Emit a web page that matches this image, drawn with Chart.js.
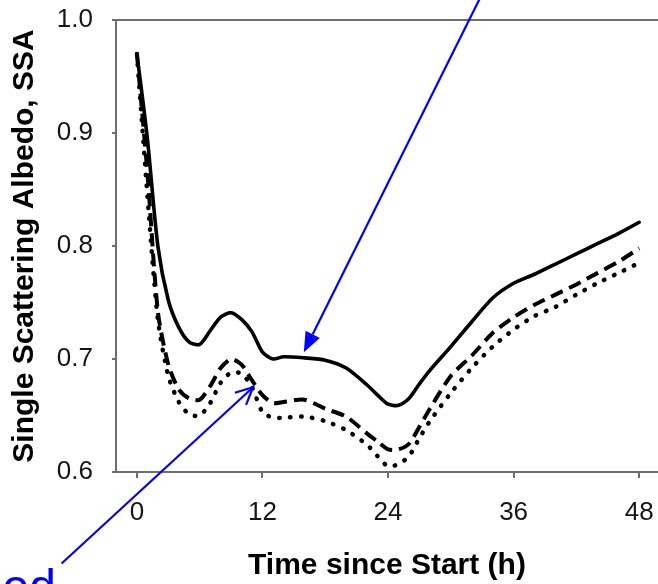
<!DOCTYPE html>
<html>
<head>
<meta charset="utf-8">
<script src="https://cdn.jsdelivr.net/npm/chart.js@4.4.1/dist/chart.umd.min.js"></script>
<style>
html, body { margin: 0; padding: 0; background: #fff; overflow: hidden; }
#wrap { width: 658px; height: 584px; position: relative; }
</style>
</head>
<body>
<div id="wrap"><canvas id="ssa-chart" width="658" height="584"></canvas></div>
<script>
// hours since start, and SSA for the three runs (solid, dashed, dotted)
var hours = [0, 1, 2, 3, 4, 5, 6, 7, 8, 9, 10, 11, 12, 13, 14, 16, 18, 20, 22, 23, 24, 25, 26, 27, 28, 30, 32, 34, 36, 38, 40, 42, 44, 46, 48];
var ssaSolid = [0.970, 0.895, 0.800, 0.752, 0.728, 0.715, 0.713, 0.725, 0.737, 0.741, 0.735, 0.724, 0.706, 0.700, 0.702, 0.701, 0.699, 0.692, 0.677, 0.668, 0.660, 0.659, 0.665, 0.678, 0.690, 0.711, 0.733, 0.754, 0.767, 0.775, 0.784, 0.793, 0.802, 0.811, 0.821];
var ssaDashed = [0.970, 0.865, 0.742, 0.695, 0.673, 0.665, 0.664, 0.676, 0.692, 0.700, 0.695, 0.681, 0.668, 0.661, 0.662, 0.664, 0.656, 0.649, 0.634, 0.627, 0.620, 0.620, 0.625, 0.640, 0.656, 0.685, 0.703, 0.723, 0.737, 0.748, 0.757, 0.766, 0.776, 0.786, 0.798];
var ssaDotted = [0.970, 0.845, 0.735, 0.685, 0.662, 0.651, 0.650, 0.661, 0.679, 0.688, 0.687, 0.675, 0.653, 0.648, 0.648, 0.649, 0.645, 0.637, 0.624, 0.614, 0.605, 0.607, 0.614, 0.630, 0.645, 0.670, 0.692, 0.711, 0.726, 0.738, 0.746, 0.757, 0.767, 0.776, 0.785];
var xTickLabels = [0, 12, 24, 36, 48];
var yTickLabels = [0.6, 0.7, 0.8, 0.9, 1.0];

// blue callout arrows in data units [hours, SSA]
var arrowTop = { from: [32.8, 1.0196], to: [15.95, 0.706] };
var arrowBottom = { from: [-7.2, 0.519], to: [11.1, 0.675] };

var axisGray = '#6e6e6e';
var fontFam = '"Liberation Sans", Arial, sans-serif';

function toPoints(vals) {
    var pts = [];
    for (var i = 0; i < hours.length; i++) {
        pts.push({ x: hours[i], y: vals[i] });
    }
    return pts;
}

// keep tick label overhang from pushing the plot area around
function noPad(axis) {
    axis.paddingTop = 0;
    axis.paddingBottom = 0;
    axis.paddingLeft = 0;
    axis.paddingRight = 0;
}

var calloutPlugin = {
    id: 'callouts',
    afterDraw: function(chart) {
        var ctx = chart.ctx;
        var xs = chart.scales.x;
        var ys = chart.scales.y;
        function px(p) {
            return [xs.getPixelForValue(p[0]), ys.getPixelForValue(p[1])];
        }
        ctx.save();
        ctx.strokeStyle = '#0000ff';
        ctx.fillStyle = '#0000ff';
        ctx.lineWidth = 2.2;

        // top arrow, filled head
        var a = px(arrowTop.from), b = px(arrowTop.to);
        var ang = Math.atan2(b[1] - a[1], b[0] - a[0]);
        var headLen = 20, headW = 8;
        var bx = b[0] - headLen * Math.cos(ang), by = b[1] - headLen * Math.sin(ang);
        ctx.beginPath();
        ctx.moveTo(a[0], a[1]);
        ctx.lineTo(bx, by);
        ctx.stroke();
        ctx.beginPath();
        ctx.moveTo(b[0], b[1]);
        ctx.lineTo(bx + headW * Math.sin(ang), by - headW * Math.cos(ang));
        ctx.lineTo(bx - headW * Math.sin(ang), by + headW * Math.cos(ang));
        ctx.closePath();
        ctx.fill();

        // bottom arrow, open head
        a = px(arrowBottom.from);
        b = px(arrowBottom.to);
        ang = Math.atan2(b[1] - a[1], b[0] - a[0]);
        ctx.beginPath();
        ctx.moveTo(a[0], a[1]);
        ctx.lineTo(b[0], b[1]);
        ctx.stroke();
        ctx.beginPath();
        ctx.moveTo(b[0] - 19 * Math.cos(ang - 0.45), b[1] - 19 * Math.sin(ang - 0.45));
        ctx.lineTo(b[0], b[1]);
        ctx.lineTo(b[0] - 19 * Math.cos(ang + 0.45), b[1] - 19 * Math.sin(ang + 0.45));
        ctx.stroke();

        // cut-off caption text at the bottom left
        ctx.font = '48px ' + fontFam;
        ctx.textAlign = 'right';
        ctx.textBaseline = 'alphabetic';
        ctx.fillText('ed', 56, 603);
        ctx.restore();
    }
};

var ctx = document.getElementById('ssa-chart');

var chart = new Chart(ctx, {
    type: 'line',
    data: {
        datasets: [
            {
                label: 'solid',
                data: toPoints(ssaSolid),
                borderColor: '#000',
                borderWidth: 3.6,
                borderJoinStyle: 'round',
                borderCapStyle: 'round',
                pointRadius: 0,
                tension: 0.25
            },
            {
                label: 'dashed',
                data: toPoints(ssaDashed),
                borderColor: '#000',
                borderWidth: 4,
                borderDash: [13, 7],
                borderCapStyle: 'butt',
                pointRadius: 0,
                tension: 0.25
            },
            {
                label: 'dotted',
                data: toPoints(ssaDotted),
                borderColor: '#000',
                borderWidth: 4.5,
                borderDash: [0.5, 10.5],
                borderCapStyle: 'round',
                pointRadius: 0,
                tension: 0.25
            }
        ]
    },
    options: {
        responsive: false,
        animation: false,
        devicePixelRatio: 1,
        layout: { padding: 0 },
        plugins: {
            legend: { display: false },
            tooltip: { enabled: false }
        },
        scales: {
            x: {
                type: 'linear',
                position: 'bottom',
                min: -2,
                max: 49.8,
                afterBuildTicks: function(axis) {
                    axis.ticks = xTickLabels.map(function(v) { return { value: v }; });
                },
                afterFit: function(axis) { axis.height = 112; noPad(axis); },
                ticks: {
                    font: { family: fontFam, size: 26 },
                    color: '#151515',
                    padding: 19,
                    maxRotation: 0
                },
                grid: {
                    drawOnChartArea: false,
                    drawTicks: true,
                    tickLength: 6,
                    color: axisGray,
                    lineWidth: 2
                },
                border: { color: axisGray, width: 2 },
                title: {
                    display: true,
                    text: 'Time since Start (h)',
                    font: { family: fontFam, size: 30, weight: 'bold' },
                    color: '#000',
                    padding: { top: 0, bottom: 0 }
                }
            },
            x2: {
                type: 'linear',
                position: 'top',
                min: -2,
                max: 49.8,
                afterFit: function(axis) { axis.height = 20; noPad(axis); },
                ticks: { display: false },
                grid: { display: false, drawTicks: false },
                border: { display: true, color: axisGray, width: 2 }
            },
            y: {
                min: 0.6,
                max: 1.0,
                afterBuildTicks: function(axis) {
                    axis.ticks = yTickLabels.map(function(v) { return { value: v }; });
                },
                afterFit: function(axis) { axis.width = 116; noPad(axis); },
                ticks: {
                    font: { family: fontFam, size: 26 },
                    color: '#151515',
                    padding: 19,
                    callback: function(v) { return Number(v).toFixed(1); }
                },
                grid: {
                    drawOnChartArea: false,
                    drawTicks: true,
                    tickLength: 4,
                    color: axisGray,
                    lineWidth: 2
                },
                border: { color: axisGray, width: 2 },
                title: {
                    display: true,
                    text: 'Single Scattering Albedo, SSA',
                    font: { family: fontFam, size: 30, weight: 'bold' },
                    color: '#000',
                    padding: { top: 7, bottom: 0 }
                }
            }
        }
    },
    plugins: [calloutPlugin]
});
</script>
</body>
</html>
